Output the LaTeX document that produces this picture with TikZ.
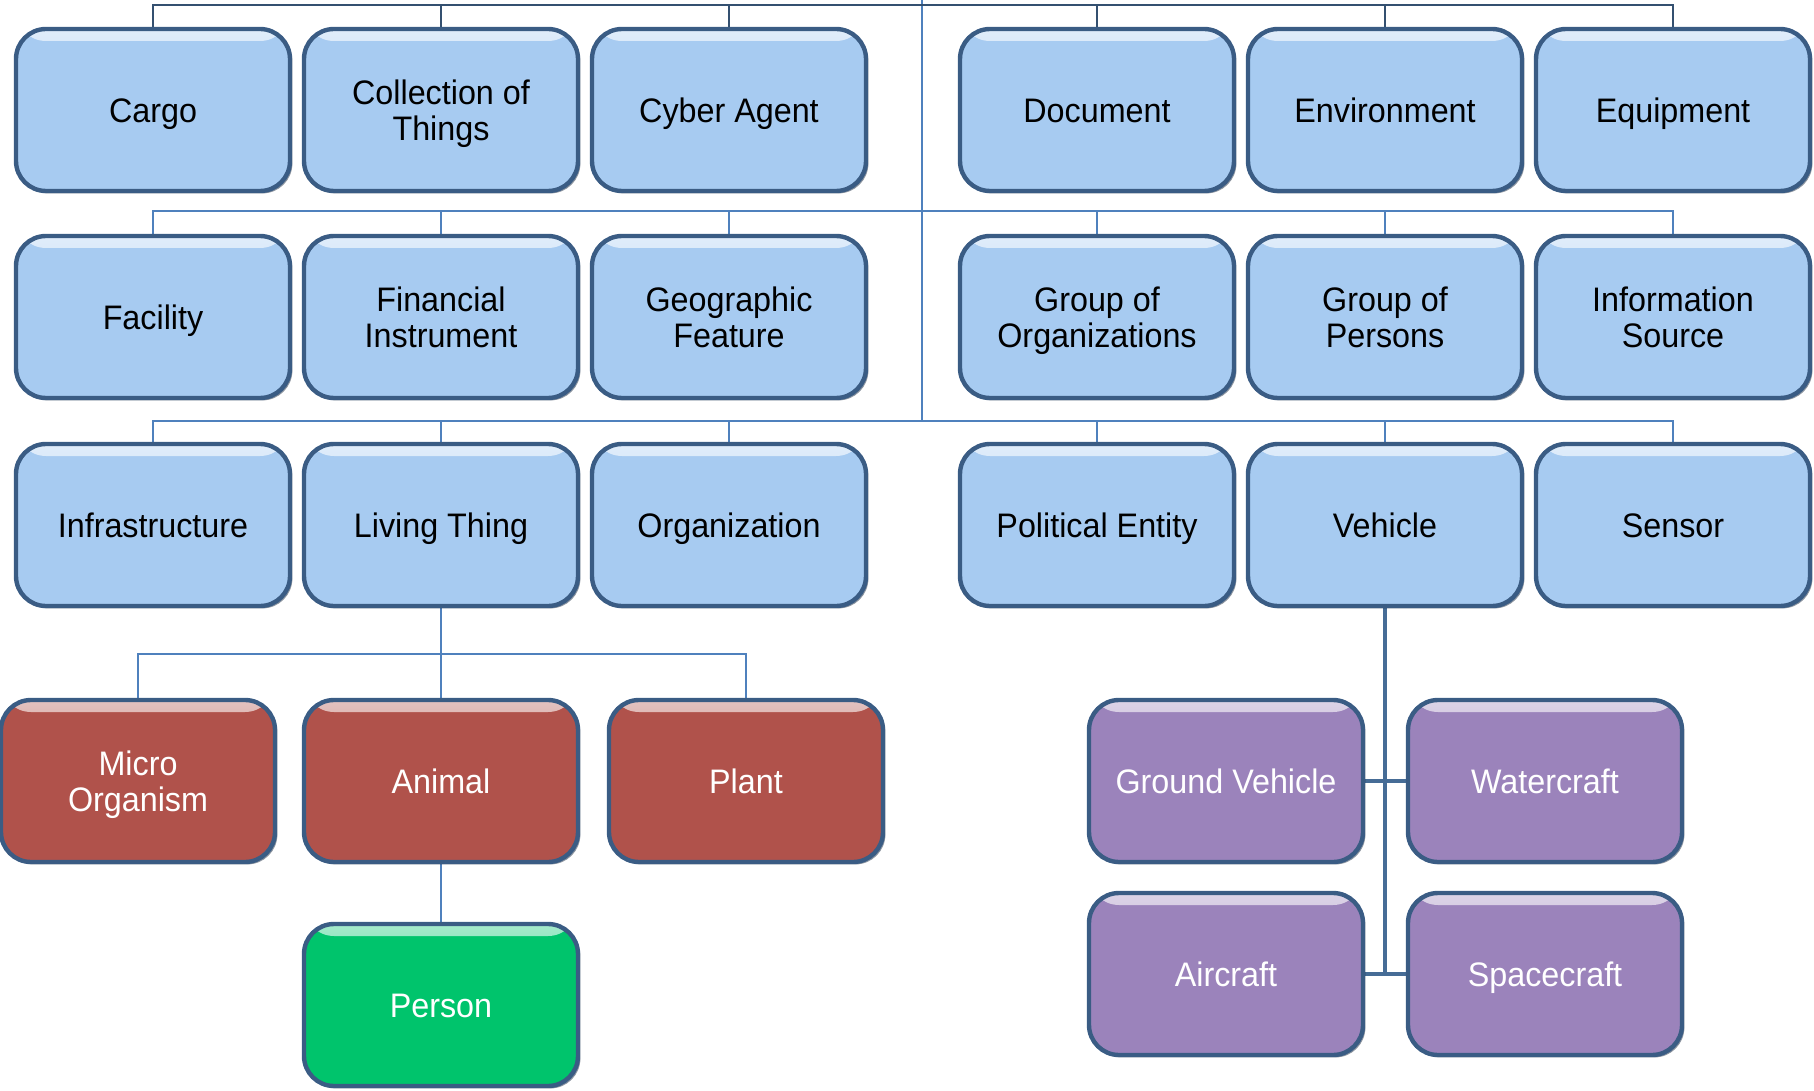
\documentclass[tikz,border=0pt]{standalone}
\usepackage{fontspec}
\setmainfont{Liberation Sans}[FakeStretch=0.95]
\usetikzlibrary{shadows,backgrounds}
\definecolor{bluefill}{RGB}{167,203,241}
\definecolor{redfill}{RGB}{176,82,75}
\definecolor{purplefill}{RGB}{155,131,187}
\definecolor{greenfill}{RGB}{0,196,108}
\definecolor{bordc}{RGB}{58,92,132}
\definecolor{shadc}{RGB}{25,42,64}
\definecolor{linec}{RGB}{79,129,189}
\definecolor{topc}{RGB}{52,80,112}
\definecolor{vehc}{RGB}{70,108,150}
\newcommand{\lblone}[1]{\rule{0pt}{12.3pt}\smash{#1}}
\newcommand{\lbltwo}[2]{\rule{0pt}{30.3pt}\smash{\vbox{\halign{\hfil##\hfil\cr #1\cr #2\cr}}}}
\tikzset{
  box/.style={rounded corners=15pt, minimum width=137pt, minimum height=81pt,
    draw=bordc, line width=2.2pt, fill=#1, inner sep=0pt,
    font=\fontsize{17}{18}\selectfont,
    drop shadow={shadow xshift=1.2pt, shadow yshift=-1.2pt, fill=shadc, opacity=0.5},
    path picture={
      \fill[top color=#1!35!white, bottom color=#1] ([yshift=-0.8pt]path picture bounding box.north west) rectangle ([yshift=-6pt]path picture bounding box.north east);
    }},
  bluebox/.style={box=bluefill, text=black},
  redbox/.style={box=redfill, text=white},
  purplebox/.style={box=purplefill, text=white},
  greenbox/.style={box=greenfill, text=white},
  conn/.style={draw=linec, line width=1.2pt},
  topconn/.style={draw=topc, line width=1.4pt},
  vehconn/.style={draw=vehc, line width=1.8pt},
}
\begin{document}
\begin{tikzpicture}[x=0.5pt,y=-0.5pt]
\useasboundingbox (0,0) rectangle (1814,1091);
\coordinate (root) at (922,0);
\coordinate (b1) at (922,5);
\coordinate (b2) at (922,211);
\coordinate (b3) at (922,421);
\coordinate (lb) at (441,654);
% row 1
\node[bluebox] (cargo)   at (153,110)  {\lblone{Cargo}};
\node[bluebox] (coll)    at (441,110)  {\lbltwo{Collection of}{Things}};
\node[bluebox] (cyber)   at (729,110)  {\lblone{Cyber Agent}};
\node[bluebox] (doc)     at (1097,110) {\lblone{Document}};
\node[bluebox] (env)     at (1385,110) {\lblone{Environment}};
\node[bluebox] (equip)   at (1673,110) {\lblone{Equipment}};
% row 2
\node[bluebox] (fac)     at (153,317)  {\lblone{Facility}};
\node[bluebox] (fin)     at (441,317)  {\lbltwo{Financial}{Instrument}};
\node[bluebox] (geo)     at (729,317)  {\lbltwo{Geographic}{Feature}};
\node[bluebox] (grporg)  at (1097,317) {\lbltwo{Group of}{Organizations}};
\node[bluebox] (grppers) at (1385,317) {\lbltwo{Group of}{Persons}};
\node[bluebox] (info)    at (1673,317) {\lbltwo{Information}{Source}};
% row 3
\node[bluebox] (infra)   at (153,525)  {\lblone{Infrastructure}};
\node[bluebox] (living)  at (441,525)  {\lblone{Living Thing}};
\node[bluebox] (org)     at (729,525)  {\lblone{Organization}};
\node[bluebox] (pol)     at (1097,525) {\lblone{Political Entity}};
\node[bluebox] (veh)     at (1385,525) {\lblone{Vehicle}};
\node[bluebox] (sensor)  at (1673,525) {\lblone{Sensor}};
% living things
\node[redbox] (micro)  at (138,781) {\lbltwo{Micro}{Organism}};
\node[redbox] (animal) at (441,781) {\lblone{Animal}};
\node[redbox] (plant)  at (746,781) {\lblone{Plant}};
\node[greenbox] (person) at (441,1005) {\lblone{Person}};
% vehicles
\node[purplebox] (ground) at (1226,781) {\lblone{Ground Vehicle}};
\node[purplebox] (water)  at (1545,781) {\lblone{Watercraft}};
\node[purplebox] (air)    at (1226,974) {\lblone{Aircraft}};
\node[purplebox] (space)  at (1545,974) {\lblone{Spacecraft}};
% connectors
\begin{scope}[on background layer]
\draw[conn] (root) -- (b3);
\foreach \n in {cargo,coll,cyber,doc,env,equip}{
  \draw[topconn] (b1) -| ([yshift=-8pt]\n.north);
  \draw[conn] ([yshift=-8pt]\n.north) -- (\n.north);
}
\foreach \n in {fac,fin,geo,grporg,grppers,info}{
  \draw[conn] (b2) -| (\n.north);
}
\foreach \n in {infra,living,org,pol,veh,sensor}{
  \draw[conn] (b3) -| (\n.north);
}
\draw[conn] (living.south) -- (animal.north);
\draw[conn] (lb) -| (micro.north);
\draw[conn] (lb) -| (plant.north);
\draw[conn] (animal.south) -- (person.north);
\draw[vehconn] (veh.south) -- (veh.south |- air.east);
\draw[vehconn] (ground.east) -- (water.west);
\draw[vehconn] (air.east) -- (space.west);
\end{scope}
\end{tikzpicture}
\end{document}
